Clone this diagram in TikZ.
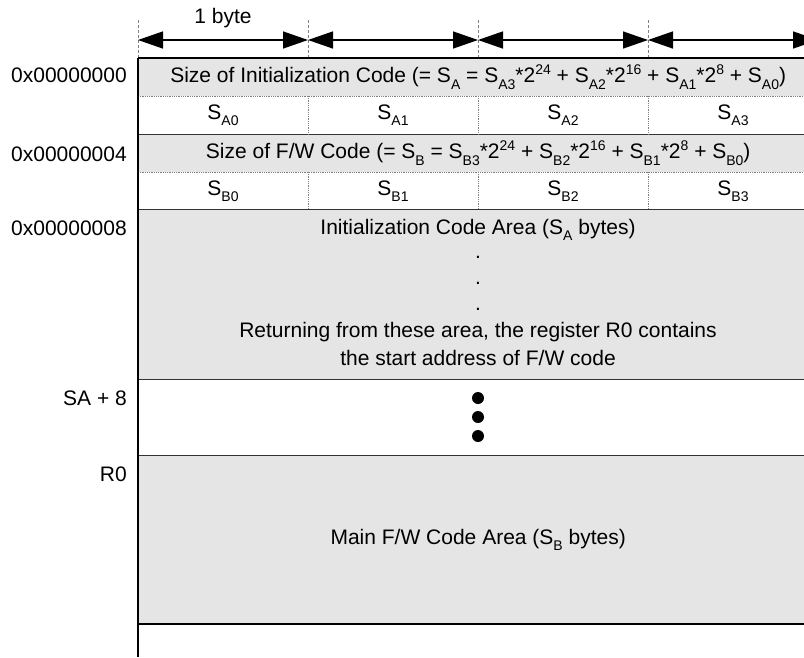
\documentclass[tikz,border=0pt]{standalone}
\usepackage{fontspec}
\setmainfont{Liberation Sans}
\usetikzlibrary{arrows.meta}

\definecolor{cellgray}{HTML}{E5E5E5}
\definecolor{rulegray}{HTML}{333333}

% small lowered / raised text for indices and powers
\newcommand\lo[1]{\raisebox{-0.3em}{\fontsize{14}{14}\selectfont #1}}
\newcommand\hi[1]{\raisebox{0.38em}{\fontsize{14}{14}\selectfont #1}}

\tikzset{
  band/.style={rectangle, fill=cellgray, draw=none, inner sep=0pt,
               minimum width=680pt, anchor=north west},
  plain/.style={band, fill=white},
  txt/.style={inner sep=0pt, font=\fontsize{21}{24}\selectfont},
  addr/.style={txt, anchor=east},
  guide/.style={gray, line width=0.6pt, densely dashed},
  dotrule/.style={gray, line width=0.8pt, densely dotted},
  solidrule/.style={rulegray, line width=1.4pt},
  heavyrule/.style={black, line width=2pt},
  bytearrow/.style={line width=1.4pt,
    {Triangle[length=25pt,width=17pt]}-{Triangle[length=25pt,width=17pt]}},
}

\begin{document}
\begin{tikzpicture}[x=1pt, y=-1pt]
\useasboundingbox (0,0) rectangle (804,657);
\clip (0,0) rectangle (804,657);

% memory bands
\node[band,  minimum height=38pt]  (b1) at (138,58)  {};
\node[plain, minimum height=38pt]  (b2) at (138,96)  {};
\node[band,  minimum height=38pt]  (b3) at (138,134) {};
\node[plain, minimum height=37pt]  (b4) at (138,172) {};
\node[band,  minimum height=170pt] (b5) at (138,209) {};
\node[plain, minimum height=76pt]  (b6) at (138,379) {};
\node[band,  minimum height=169pt] (b7) at (138,455) {};
\node[plain, minimum height=40pt]  (b8) at (138,624) {};

% byte column guides and width arrows
\coordinate (g0) at (138,20);
\coordinate (g1) at (308,20);
\coordinate (g2) at (478,20);
\coordinate (g3) at (648,20);
\coordinate (g4) at (818,20);
\foreach \g in {g0,g1,g2,g3}
  \draw[guide] (\g) -- (\g |- b1.north);
\foreach \a/\b in {g0/g1,g1/g2,g2/g3,g3/g4}
  \draw[bytearrow] ([yshift=-20pt]\a) -- ([yshift=-20pt]\b);
\node[txt] (onebyte) at (223,18) {1 byte};

% horizontal rules
\draw[dotrule]   (b1.south west) -- (b1.south east);
\draw[solidrule] (b2.south west) -- (b2.south east);
\draw[dotrule]   (b3.south west) -- (b3.south east);
\draw[solidrule] (b4.south west) -- (b4.south east);
\draw[solidrule] (b5.south west) -- (b5.south east);
\draw[solidrule] (b6.south west) -- (b6.south east);
\draw[heavyrule] (b7.south west) -- (b7.south east);

% byte dividers inside the index rows
\foreach \g in {g1,g2,g3} {
  \draw[dotrule] (\g |- b2.north) -- (\g |- b2.south);
  \draw[dotrule] (\g |- b4.north) -- (\g |- b4.south);
}

% outer frame
\draw[heavyrule] (b1.north west) -- (b1.north east);
\draw[heavyrule] (b1.north west) -- (138,657);

% band texts
\node[txt] (sa) at (b1.center) {Size of Initialization Code (= S\lo{A} = S\lo{A3}*2\hi{24} + S\lo{A2}*2\hi{16} + S\lo{A1}*2\hi{8} + S\lo{A0})};
\node[txt] (sa0) at (223,115) {S\lo{A0}};
\node[txt] (sa1) at (393,115) {S\lo{A1}};
\node[txt] (sa2) at (563,115) {S\lo{A2}};
\node[txt] (sa3) at (733,115) {S\lo{A3}};
\node[txt] (sb) at (b3.center) {Size of F/W Code (= S\lo{B} = S\lo{B3}*2\hi{24} + S\lo{B2}*2\hi{16} + S\lo{B1}*2\hi{8} + S\lo{B0})};
\node[txt] (sb0) at (223,191) {S\lo{B0}};
\node[txt] (sb1) at (393,191) {S\lo{B1}};
\node[txt] (sb2) at (563,191) {S\lo{B2}};
\node[txt] (sb3) at (733,191) {S\lo{B3}};

\node[txt] (init) at (478,230) {Initialization Code Area (S\lo{A} bytes)};
\node[txt] (d1) at (478,257) {.};
\node[txt] (d2) at (478,283) {.};
\node[txt] (d3) at (478,309) {.};
\node[txt] (ret1) at (478,332) {Returning from these area, the register R0 contains};
\node[txt] (ret2) at (478,358) {the start address of F/W code};

\foreach \y [count=\i] in {398,417,436}
  \fill (478,\y) circle[radius=6pt] coordinate (dot\i);

\node[txt] (main) at (b7.center) {Main F/W Code Area (S\lo{B} bytes)};

% addresses
\node[addr] (a0) at (127,75)  {0x00000000};
\node[addr] (a4) at (127,154) {0x00000004};
\node[addr] (a8) at (127,228) {0x00000008};
\node[addr] (asa) at (127,398) {SA + 8};
\node[addr] (ar0) at (127,474) {R0};
\end{tikzpicture}
\end{document}
